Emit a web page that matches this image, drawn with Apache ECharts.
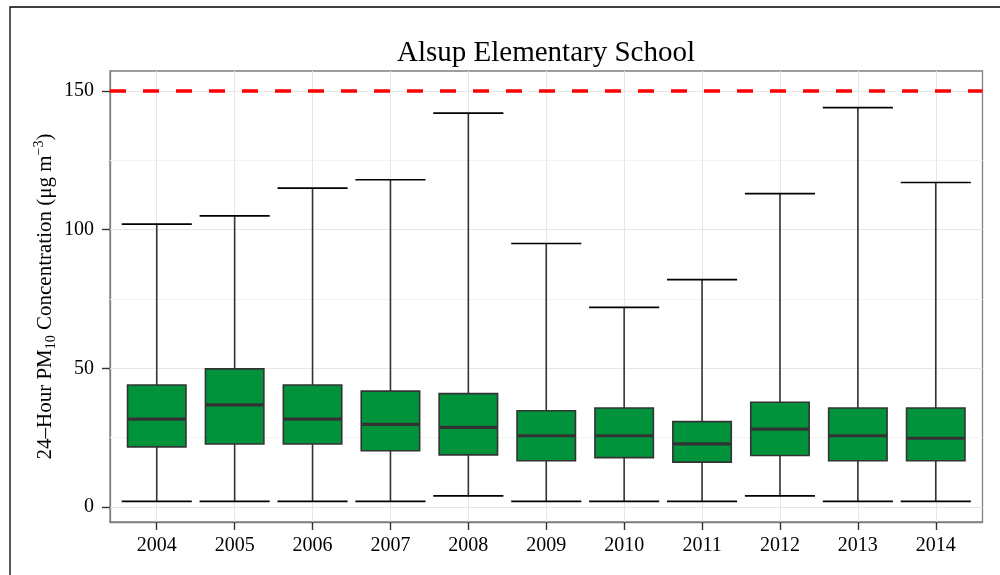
<!DOCTYPE html>
<html>
<head>
<meta charset="utf-8">
<script src="https://cdn.jsdelivr.net/npm/echarts@6/dist/echarts.min.js"></script>
<style>
  html, body { margin: 0; padding: 0; background: #fff; }
  #main { width: 1000px; height: 575px; }
</style>
</head>
<body>
<div id="main"></div>
<script>
// box statistics per year
var years = ['2004', '2005', '2006', '2007', '2008', '2009', '2010', '2011', '2012', '2013', '2014'];
var lowWhisker = [2, 2, 2, 2, 4, 2, 2, 2, 4, 2, 2];
var q1 = [21.7, 22.7, 22.7, 20.3, 18.8, 16.7, 17.8, 16.2, 18.6, 16.7, 16.7];
var median = [31.7, 36.8, 31.7, 29.8, 28.7, 25.7, 25.7, 22.8, 28.1, 25.7, 24.8];
var q3 = [44, 49.8, 44, 41.8, 40.9, 34.7, 35.7, 30.8, 37.8, 35.7, 35.7];
var highWhisker = [102, 105, 115, 118, 142, 95, 72, 82, 113, 144, 117];
var yTicks = [0, 50, 100, 150];
var yMinorGrid = [25, 75, 125];
var standard = 150;

var serif = 'Liberation Serif';
var xPos = years.map(function (y, i) { return i + 1; });

var boxData = years.map(function (y, i) {
    return [i + 1, lowWhisker[i], q1[i], median[i], q3[i], highWhisker[i]];
});

function renderBox(params, api) {
    var x = api.value(0);
    var band = api.size([1, 0])[0];
    var lo = api.coord([x, api.value(1)]);
    var b1 = api.coord([x, api.value(2)]);
    var md = api.coord([x, api.value(3)]);
    var b3 = api.coord([x, api.value(4)]);
    var hi = api.coord([x, api.value(5)]);
    var bw = band * 0.75 / 2;
    var cw = band * 0.9 / 2;
    var cx = lo[0];
    var dark = '#333333';
    return {
        type: 'group',
        children: [
            { type: 'line', shape: { x1: cx, y1: hi[1], x2: cx, y2: b3[1] }, style: { stroke: dark, lineWidth: 1.6 } },
            { type: 'line', shape: { x1: cx, y1: b1[1], x2: cx, y2: lo[1] }, style: { stroke: dark, lineWidth: 1.6 } },
            { type: 'line', shape: { x1: cx - cw, y1: hi[1], x2: cx + cw, y2: hi[1] }, style: { stroke: '#000', lineWidth: 1.7 } },
            { type: 'line', shape: { x1: cx - cw, y1: lo[1], x2: cx + cw, y2: lo[1] }, style: { stroke: '#000', lineWidth: 1.7 } },
            { type: 'rect', shape: { x: cx - bw, y: b3[1], width: bw * 2, height: b1[1] - b3[1] }, style: { fill: '#00933b', stroke: dark, lineWidth: 1.6 } },
            { type: 'line', shape: { x1: cx - bw, y1: md[1], x2: cx + bw, y2: md[1] }, style: { stroke: dark, lineWidth: 3.2 } }
        ]
    };
}

var myChart = echarts.init(document.getElementById('main'));
var option = {
    animation: false,
    backgroundColor: '#fff',
    grid: {
        left: 110, right: 17.5, top: 71, bottom: 53,
        show: true, borderColor: '#7f7f7f', borderWidth: 1.3, backgroundColor: 'transparent'
    },
    graphic: [
        { type: 'rect', shape: { x: 10, y: 7, width: 1000, height: 620 }, style: { fill: 'none', stroke: '#000', lineWidth: 1.3 }, silent: true },
        { type: 'text', x: 546, y: 53, style: { text: 'Alsup Elementary School', font: '29px "Liberation Serif"', fill: '#000', textAlign: 'center', textVerticalAlign: 'middle' } }
    ],
    xAxis: {
        type: 'value',
        min: 0.4,
        max: 11.6,
        axisLine: { show: true, onZero: false, lineStyle: { color: '#7f7f7f', width: 1.3 } },
        splitLine: { show: false },
        axisTick: { show: true, length: 8, customValues: xPos, lineStyle: { color: '#333', width: 1.4 } },
        axisLabel: {
            customValues: xPos,
            margin: 14,
            fontFamily: serif, fontSize: 20, color: '#000',
            formatter: function (v) { return years[Math.round(v) - 1]; }
        }
    },
    yAxis: {
        type: 'value',
        min: -5.4,
        max: 157.2,
        name: '24\u2013Hour PM{sub|10} Concentration (\u03bcg m{sup|\u22123})',
        nameLocation: 'middle',
        nameGap: 52,
        nameMoveOverlap: false,
        nameTextStyle: {
            fontFamily: serif, fontSize: 21, color: '#000', lineHeight: 26,
            rich: {
                sub: { fontFamily: serif, fontSize: 14, verticalAlign: 'bottom', lineHeight: 26 },
                sup: { fontFamily: serif, fontSize: 14, verticalAlign: 'top', lineHeight: 26 }
            }
        },
        axisLine: { show: true, onZero: false, lineStyle: { color: '#7f7f7f', width: 1.3 } },
        splitLine: { show: false },
        axisTick: { show: true, length: 8, customValues: yTicks, lineStyle: { color: '#333', width: 1.4 } },
        axisLabel: { customValues: yTicks, margin: 16, fontFamily: serif, fontSize: 20, color: '#000' }
    },
    series: [
        {
            // panel grid lines
            type: 'line',
            data: [],
            silent: true,
            markLine: {
                z: 1,
                silent: true,
                symbol: 'none',
                label: { show: false },
                data: yMinorGrid.map(function (v) {
                    return { yAxis: v, lineStyle: { color: '#f3f3f3', width: 1, type: 'solid' } };
                }).concat(yTicks.map(function (v) {
                    return { yAxis: v, lineStyle: { color: '#e6e6e6', width: 1.1, type: 'solid' } };
                })).concat(xPos.map(function (v) {
                    return { xAxis: v, lineStyle: { color: '#e6e6e6', width: 1.1, type: 'solid' } };
                }))
            }
        },
        {
            type: 'custom',
            renderItem: renderBox,
            data: boxData,
            z: 3,
            encode: { x: 0, y: [1, 2, 3, 4, 5] },
            markLine: {
                z: 6,
                silent: true,
                symbol: 'none',
                label: { show: false },
                lineStyle: { color: '#ff0000', width: 3.6, type: [16, 17] },
                data: [{ yAxis: standard }]
            }
        }
    ]
};
myChart.setOption(option);
window.onresize = myChart.resize;
</script>
</body>
</html>
